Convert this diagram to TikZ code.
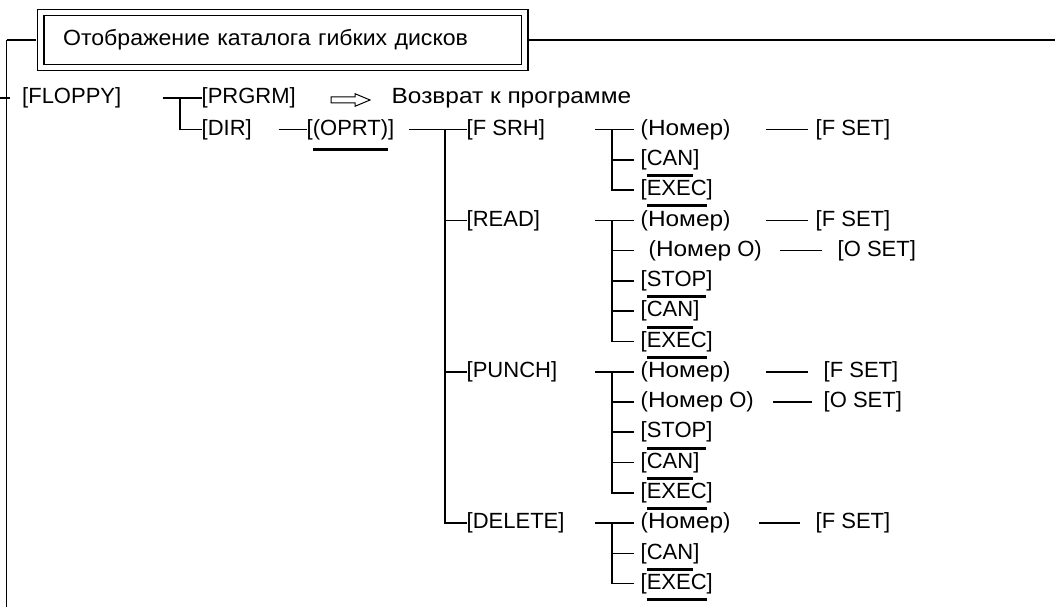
\documentclass[tikz,border=0pt]{standalone}
\usepackage{fontspec}
\setmainfont{Liberation Sans}
\newfontfamily\cyr[FakeStretch=1.11]{Liberation Sans}
\newfontfamily\cyrtitle[FakeStretch=1.05]{Liberation Sans}
\usepackage{tikz}

\newcommand{\softkey}[1]{\vtop{\hbox{#1}\kern 8.5pt\hrule height 3pt}}
\newcommand{\nomer}{{\cyr Номер}}

\begin{document}
\begin{tikzpicture}[x=1pt, y=-1pt,
                    font=\fontsize{22}{26}\selectfont,
                    key/.style={inner sep=0, anchor=west, text height=16pt, text depth=4.6pt},
                    branch/.style={line width=1.6pt},
                    titlebox/.style={draw, double, double distance=5.5pt, line width=1.2pt,
                                     anchor=west, minimum width=484, minimum height=55,
                                     inner xsep=22.5, inner ysep=0, text width=439, align=left}]
  \useasboundingbox (0,0) rectangle (1055,607);

  \node[titlebox] (title) at (40,40) {\cyrtitle Отображение каталога гибких дисков};
  \coordinate (top) at (6.5,40);
  \coordinate (bot) at (6.5,607);
  \coordinate (rt) at (1055,40);
  \draw[line width=1.3pt] ([xshift=-4]title.west) -- (top);
  \draw[branch] (top) -- (bot);
  \draw[line width=1.3pt] ([xshift=4]title.east) -- (rt);

  \node[key] (floppy) at (22,98) {[FLOPPY]};
  \node[key] (prgrm) at (201.5,98) {[PRGRM]};
  \node[key] (dir) at (201.5,129.5) {[DIR]};
  \node[key] (back) at (391.5,98) {\cyr Возврат к программе};
  \node[key] (oprt) at (306.5,129.5) {[\softkey{(OPRT)}]};
  \coordinate (arr) at (331,100);
  \coordinate (j0) at (180,98);
  \draw[branch] ([xshift=-22]floppy.west) -- ([xshift=-12]floppy.west);
  \draw[branch] ([xshift=41.5]floppy.east) -- (prgrm.west);
  \draw[branch] (j0) |- (dir.west);
  \draw[branch] ([xshift=26.5]dir.east) -- (oprt.west);
  \draw[line width=1pt] (arr) ++(0,-3) -- ++(24,0) -- ++(0,-3.3) -- ++(15,6.3)
    -- ++(-15,6.3) -- ++(0,-3.3) -- ++(-24,0) -- cycle;

  \node[key] (fsrh) at (466.5,129.5) {[F SRH]};
  \node[key] (read) at (466.5,220.3) {[READ]};
  \node[key] (punch) at (466.5,371.7) {[PUNCH]};
  \node[key] (delete) at (466.5,523.0) {[DELETE]};
  \coordinate (j1) at (445,129.5);
  \draw[branch] ([xshift=14.5]oprt.east) -- (fsrh.west);
  \draw[branch] (j1) |- (read.west);
  \draw[branch] (j1) |- (punch.west);
  \draw[branch] (j1) |- (delete.west);

  \node[key] (na) at (640.5,129.5) {(\nomer)};
  \node[key] (ca) at (640.5,159.8) {[\softkey{CAN}]};
  \node[key] (ea) at (640.5,190.0) {[\softkey{EXEC}]};
  \node[key] (fa) at (815.5,129.5) {[F SET]};
  \coordinate (ja) at (612,129.5);
  \draw[branch] ([xshift=-17]ja) -- ([xshift=-6.5]na.west);
  \draw[branch] (ja) |- ([xshift=-6.5]ca.west);
  \draw[branch] (ja) |- ([xshift=-6.5]ea.west);
  \draw[branch] ([xshift=35.5]na.east) -- ([xshift=-7.5]fa.west);

  \node[key] (nb) at (640.5,220.3) {(\nomer)};
  \node[key] (ob) at (648.5,250.6) {(\nomer{} O)};
  \node[key] (sb) at (640.5,280.9) {[\softkey{STOP}]};
  \node[key] (cb) at (640.5,311.1) {[\softkey{CAN}]};
  \node[key] (eb) at (640.5,341.4) {[\softkey{EXEC}]};
  \node[key] (fb) at (815.5,220.3) {[F SET]};
  \node[key] (osb) at (837.5,250.6) {[O SET]};
  \coordinate (jb) at (612,220.3);
  \draw[branch] ([xshift=-17]jb) -- ([xshift=-6.5]nb.west);
  \draw[branch] (jb) |- ([xshift=-14.5]ob.west);
  \draw[branch] (jb) |- ([xshift=-6.5]sb.west);
  \draw[branch] (jb) |- ([xshift=-6.5]cb.west);
  \draw[branch] (jb) |- ([xshift=-6.5]eb.west);
  \draw[branch] ([xshift=35.5]nb.east) -- ([xshift=-7.5]fb.west);
  \draw[branch] ([xshift=18.5]ob.east) -- ([xshift=-15.5]osb.west);

  \node[key] (nc) at (640.5,371.7) {(\nomer)};
  \node[key] (oc) at (640.5,401.9) {(\nomer{} O)};
  \node[key] (sc) at (640.5,432.2) {[\softkey{STOP}]};
  \node[key] (cc) at (640.5,462.5) {[\softkey{CAN}]};
  \node[key] (ec) at (640.5,492.7) {[\softkey{EXEC}]};
  \node[key] (fc) at (823.5,371.7) {[F SET]};
  \node[key] (osc) at (823.5,401.9) {[O SET]};
  \coordinate (jc) at (612,371.7);
  \draw[branch] ([xshift=-17]jc) -- ([xshift=-6.5]nc.west);
  \draw[branch] (jc) |- ([xshift=-6.5]oc.west);
  \draw[branch] (jc) |- ([xshift=-6.5]sc.west);
  \draw[branch] (jc) |- ([xshift=-6.5]cc.west);
  \draw[branch] (jc) |- ([xshift=-6.5]ec.west);
  \draw[branch] ([xshift=35.5]nc.east) -- ([xshift=-15.5]fc.west);
  \draw[branch] ([xshift=19.5]oc.east) -- ([xshift=-11.5]osc.west);

  \node[key] (nd) at (640.5,523.0) {(\nomer)};
  \node[key] (cd) at (640.5,553.3) {[\softkey{CAN}]};
  \node[key] (ed) at (640.5,583.6) {[\softkey{EXEC}]};
  \node[key] (fd) at (815.5,523.0) {[F SET]};
  \coordinate (jd) at (612,523.0);
  \draw[branch] ([xshift=-17]jd) -- ([xshift=-6.5]nd.west);
  \draw[branch] (jd) |- ([xshift=-6.5]cd.west);
  \draw[branch] (jd) |- ([xshift=-6.5]ed.west);
  \draw[branch] ([xshift=28.5]nd.east) -- ([xshift=-15.5]fd.west);
\end{tikzpicture}
\end{document}
